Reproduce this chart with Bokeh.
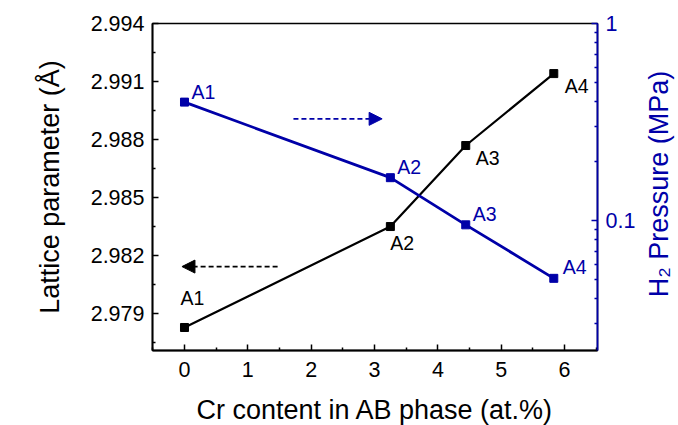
import math
from bokeh.plotting import figure
from bokeh.layouts import row
from bokeh.models import (Range1d, LogScale, LogAxis, FixedTicker,
                          ColumnDataSource, Arrow, NormalHead, PrintfTickFormatter)
from bokeh.core.properties import value
from bokeh.embed import file_html
from bokeh.resources import INLINE

# ---- data ----
cr_content = [0.0, 3.25, 4.44, 5.83]
lattice = [2.97828, 2.98350, 2.98769, 2.99141]
pressure = [0.399, 0.165, 0.0951, 0.0509]
names = ["A1", "A2", "A3", "A4"]

x_ticks = [0, 1, 2, 3, 4, 5, 6]
left_ticks = [2.979, 2.982, 2.985, 2.988, 2.991, 2.994]
right_ticks = [0.1, 1.0]
right_labels = {0.1: "0.1", 1.0: "1"}

x_title = "Cr content in AB phase (at.%)"
left_title = "Lattice parameter (Å)"
right_title = "H₂ Pressure (MPa)"

# annotation arrows (data units, left axis)
blue_arrow = dict(x0=1.72, x1=3.12, y=2.98907)
black_arrow = dict(x0=1.47, x1=-0.04, y=2.98143)

# label offsets (px)
black_dx = [-4, 0, 10, 11]
black_dy = [-29, 16, 12, 12]
blue_dx = [7, 7, 7, 9]
blue_dy = [-10, -11, -11, -11]

FONT = "Liberation Sans"
BLACK = "#000000"
BLUE = "#0000A8"

SIDE_W, H = 38, 425

p = figure(frame_width=445, frame_height=327, output_backend="svg", toolbar_location=None,
           x_range=Range1d(-0.505, 6.52), y_range=Range1d(2.97709, 2.994),
           min_border_left=152, min_border_right=43, min_border_top=23,
           min_border_bottom=75)
p.outline_line_color = BLACK
p.outline_line_width = 1.5
p.xgrid.visible = False
p.ygrid.visible = False
p.background_fill_color = "white"
p.border_fill_color = "white"

p.extra_y_ranges = {"pr": Range1d(0.0219, 1.0)}
p.extra_y_scales = {"pr": LogScale()}

def style_axis(ax, color):
    ax.axis_line_color = color
    ax.axis_line_width = 1.8
    ax.major_tick_line_color = color
    ax.minor_tick_line_color = color
    ax.major_tick_line_width = 1.5
    ax.minor_tick_line_width = 1.5
    ax.major_tick_in = 6
    ax.major_tick_out = 0
    ax.minor_tick_in = 3
    ax.minor_tick_out = 0
    ax.major_label_text_color = color
    ax.major_label_text_font = FONT
    ax.major_label_text_font_size = "21.5px"
    ax.axis_label_text_color = color
    ax.axis_label_text_font = FONT
    ax.axis_label_text_font_size = "27px"
    ax.axis_label_text_font_style = "normal"

xa = p.xaxis[0]
xa.ticker = FixedTicker(ticks=x_ticks, minor_ticks=[v + 0.5 for v in range(-1, 7)])
xa.axis_label = x_title
style_axis(xa, BLACK)
xa.major_label_standoff = 11
xa.axis_label_standoff = 15

ya = p.yaxis[0]
ya.ticker = FixedTicker(ticks=left_ticks, minor_ticks=[t - 0.0015 for t in left_ticks])
ya.formatter = PrintfTickFormatter(format="%.3f")
ya.axis_label = left_title
style_axis(ya, BLACK)
ya.major_label_standoff = 8
ya.axis_label_standoff = 23

minor_log = [m * 10.0 ** e for e in (-2, -1) for m in range(2, 10)]
ra = LogAxis(y_range_name="pr")
ra.ticker = FixedTicker(ticks=right_ticks, minor_ticks=minor_log)
ra.major_label_overrides = right_labels
style_axis(ra, BLUE)
ra.major_label_standoff = 8
p.add_layout(ra, "right")

src = ColumnDataSource(dict(x=cr_content, lat=lattice, pr=pressure, name=names,
                            bdx=black_dx, bdy=black_dy, udx=blue_dx, udy=blue_dy))

p.line("x", "lat", source=src, line_color=BLACK, line_width=2.2)
p.scatter("x", "lat", source=src, marker="square", size=8, color=BLACK)
p.line("x", "pr", source=src, y_range_name="pr", line_color=BLUE, line_width=2.8)
p.scatter("x", "pr", source=src, y_range_name="pr", marker="square", size=8, color=BLUE)

p.text("x", "lat", text="name", source=src, x_offset="bdx", y_offset="bdy",
       text_font=value(FONT), text_font_size="19.5px", text_color=BLACK,
       text_align="left", text_baseline="middle")
p.text("x", "pr", text="name", source=src, y_range_name="pr", x_offset="udx", y_offset="udy",
       text_font=value(FONT), text_font_size="19.5px", text_color=BLUE,
       text_align="left", text_baseline="middle")

p.add_layout(Arrow(end=NormalHead(size=13, fill_color=BLUE, line_color=BLUE),
                   x_start=blue_arrow["x0"], x_end=blue_arrow["x1"],
                   y_start=blue_arrow["y"], y_end=blue_arrow["y"],
                   line_color=BLUE, line_width=1.8, line_dash="5 3"))
p.add_layout(Arrow(end=NormalHead(size=13, fill_color=BLACK, line_color=BLACK),
                   x_start=black_arrow["x0"], x_end=black_arrow["x1"],
                   y_start=black_arrow["y"], y_end=black_arrow["y"],
                   line_color=BLACK, line_width=1.8, line_dash="5 3"))

# narrow side panel: its (left) axis carries the right-hand title, read bottom to top
side = figure(width=SIDE_W, height=H, output_backend="svg", toolbar_location=None,
              x_range=Range1d(0, 1), y_range=Range1d(0, 1),
              min_border_left=33, min_border_right=0, min_border_top=17,
              min_border_bottom=81)
side.xaxis.visible = False
side.grid.visible = False
side.outline_line_color = None
side.background_fill_color = "white"
side.border_fill_color = "white"
sa = side.yaxis[0]
sa.ticker = FixedTicker(ticks=[])
sa.axis_line_color = None
sa.major_tick_line_color = None
sa.minor_tick_line_color = None
sa.axis_label = right_title
sa.axis_label_standoff = 0
sa.axis_label_text_color = BLUE
sa.axis_label_text_font = FONT
sa.axis_label_text_font_size = "27px"
sa.axis_label_text_font_style = "normal"

layout = row(p, side, spacing=0)
open("out.html", "w").write(file_html(layout, INLINE))
